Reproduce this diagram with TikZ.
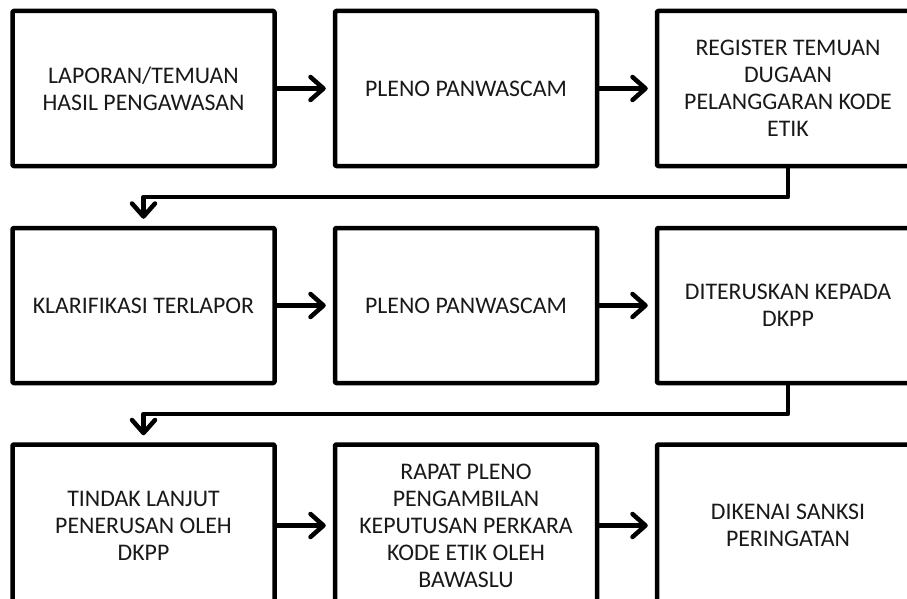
\documentclass[tikz,border=0pt]{standalone}
\usepackage{fontspec}
\setmainfont{Carlito}
\usetikzlibrary{arrows.meta}
\begin{document}
\begin{tikzpicture}[x=1pt,y=-1pt,
  box/.style={draw=black,line width=4.5pt,line join=round,rounded corners=1pt,
    minimum width=262pt,minimum height=155pt,inner sep=0pt,align=center,
    font=\fontsize{23.8pt}{27pt}\selectfont,text=black!90},
  arr/.style={line width=4.5pt,line join=round,
    -{Straight Barb[length=13pt,width=23pt,line cap=round,line join=round]},
    shorten >=7pt}]
\clip (0,0) rectangle (907,599);
\fill[white] (0,0) rectangle (907,599);
% row 1
\node[box] (a1) at (143.5,88.5) {LAPORAN/TEMUAN\\HASIL PENGAWASAN};
\node[box] (a2) at (466,88.5) {PLENO PANWASCAM};
\node[box] (a3) at (788,88.5) {REGISTER TEMUAN\\DUGAAN\\PELANGGARAN KODE\\ETIK};
% row 2
\node[box] (b1) at (143.5,305.5) {KLARIFIKASI TERLAPOR};
\node[box] (b2) at (466,305.5) {PLENO PANWASCAM};
\node[box] (b3) at (788,305.5) {DITERUSKAN KEPADA\\DKPP};
% row 3
\node[box,minimum height=162pt] (c1) at (143.5,525.5) {TINDAK LANJUT\\PENERUSAN OLEH\\DKPP};
\node[box,minimum height=162pt] (c2) at (466,525.5) {RAPAT PLENO\\PENGAMBILAN\\KEPUTUSAN PERKARA\\KODE ETIK OLEH\\BAWASLU};
\node[box,minimum height=162pt] (c3) at (788,525.5) {DIKENAI SANKSI\\PERINGATAN};
% coordinates for elbow connectors
\coordinate (j1) at (0,197);
\coordinate (j2) at (0,414);
% arrows
\draw[arr] (a1.east) -- (a2.west);
\draw[arr] (a2.east) -- (a3.west);
\draw[arr] (b1.east) -- (b2.west);
\draw[arr] (b2.east) -- (b3.west);
\draw[arr] (c1.east) -- (c2.west);
\draw[arr] (c2.east) -- (c3.west);
\draw[arr] (a3.south) -- (a3.south |- j1) -| (b1.north);
\draw[arr] (b3.south) -- (b3.south |- j2) -| (c1.north);
\end{tikzpicture}
\end{document}
